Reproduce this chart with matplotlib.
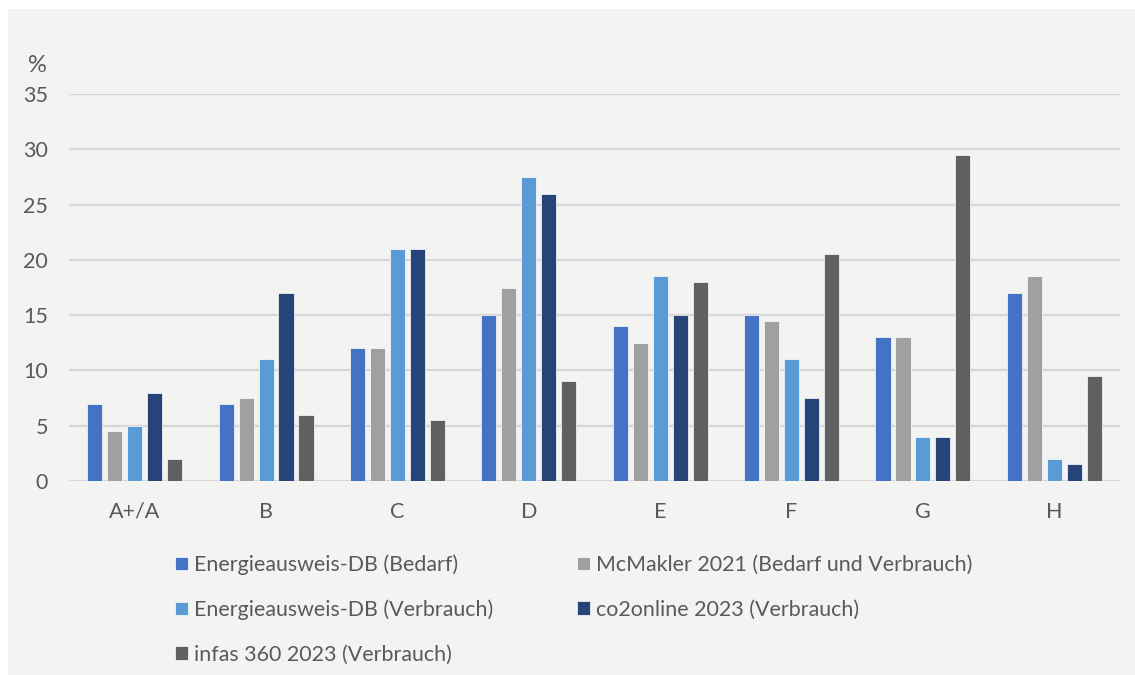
import numpy as np
import matplotlib
matplotlib.use("Agg")
import matplotlib.pyplot as plt
from matplotlib.patches import Rectangle

categories = ["A+/A", "B", "C", "D", "E", "F", "G", "H"]

edb_bedarf = [7, 7, 12, 15, 14, 15, 13, 17]
mcmakler = [4.5, 7.5, 12, 17.5, 12.5, 14.5, 13, 18.5]
edb_verbrauch = [5, 11, 21, 27.5, 18.5, 11, 4, 2]
co2online = [8, 17, 21, 26, 15, 7.5, 4, 1.5]
infas = [2, 6, 5.5, 9, 18, 20.5, 29.5, 9.5]

series = [
    ("Energieausweis-DB (Bedarf)", edb_bedarf, "#4472C4"),
    ("McMakler 2021 (Bedarf und Verbrauch)", mcmakler, "#A0A0A0"),
    ("Energieausweis-DB (Verbrauch)", edb_verbrauch, "#5B9BD5"),
    ("co2online 2023 (Verbrauch)", co2online, "#264478"),
    ("infas 360 2023 (Verbrauch)", infas, "#606060"),
]

plt.rcParams["font.family"] = ["Lato", "DejaVu Sans"]
TXT = "#595959"
BG = "#F3F3F2"

fig = plt.figure(figsize=(11.35, 6.75), dpi=100, facecolor="white")
fig.patches.append(Rectangle((8 / 1135, 0), 1, 1 - 9 / 675,
                             transform=fig.transFigure, facecolor=BG,
                             edgecolor="none", zorder=-10))

ax = fig.add_axes([69 / 1135, 1 - 481 / 675, (1120 - 69) / 1135, (481 - 94) / 675])
ax.set_facecolor(BG)

x = np.arange(len(categories))
step = 0.152
width = 0.115
bars = []
for i, (label, vals, color) in enumerate(series):
    b = ax.bar(x + (i - 2) * step, vals, width, color=color, label=label,
               edgecolor="white", linewidth=0.5, zorder=3)
    bars.append(b)

ax.set_xlim(-0.5, len(categories) - 0.5)
ax.set_ylim(0, 35)
ax.set_yticks(range(0, 36, 5))
ax.set_xticks(x)
ax.set_xticklabels(categories)
ax.grid(axis="y", color="#D6D6D6", lw=1.6, zorder=0)
ax.tick_params(length=0, labelsize=15.5, colors=TXT)
ax.tick_params(axis="y", pad=15)
ax.tick_params(axis="x", pad=15)
for s in ax.spines.values():
    s.set_visible(False)

fig.text(37 / 1135, 1 - 66 / 675, "%", fontsize=17, color=TXT, va="center", ha="center")

# matplotlib fills columns first, so reorder to get the row-wise layout
order = [0, 2, 4, 1, 3]
leg = fig.legend([bars[k] for k in order], [series[k][0] for k in order],
                 ncol=2, loc="upper left", bbox_to_anchor=(156 / 1135, 1 - 535 / 675),
                 frameon=False, fontsize=15.4, handlelength=0.6, handleheight=0.6,
                 handletextpad=0.3, labelspacing=1.15, columnspacing=3.9,
                 labelcolor=TXT)

fig.savefig("out.png", dpi=100, facecolor=fig.get_facecolor())
